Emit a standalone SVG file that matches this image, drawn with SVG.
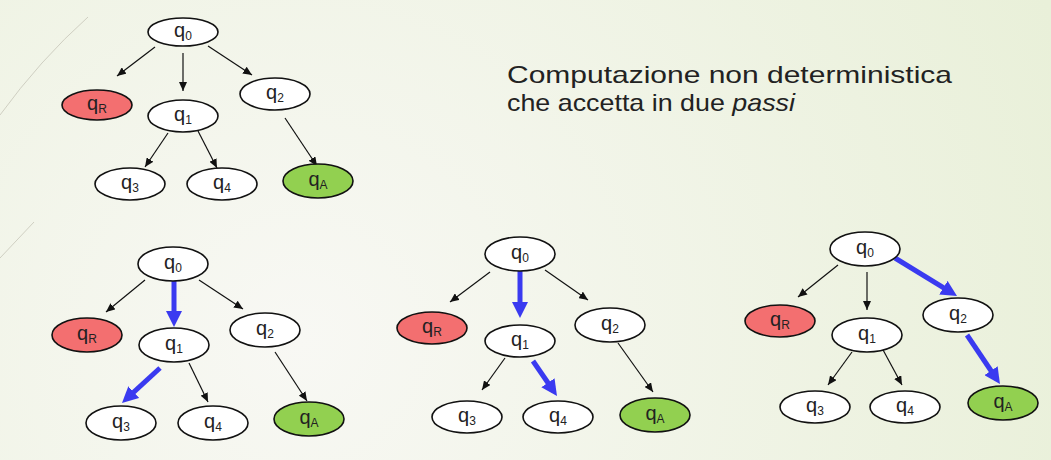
<svg xmlns="http://www.w3.org/2000/svg" width="1051" height="460" viewBox="0 0 1051 460">
  <defs>
    <radialGradient id="bg" cx="300" cy="340" r="820" gradientUnits="userSpaceOnUse">
      <stop offset="0" stop-color="#f8f8f4"/>
      <stop offset="1" stop-color="#e9f0d9"/>
    </radialGradient>
    <marker id="thin" markerUnits="userSpaceOnUse" markerWidth="9" markerHeight="8" refX="9" refY="4" orient="auto">
      <path d="M0,0 L9,4 L0,8 z" fill="#111"/>
    </marker>
    <marker id="bold" markerUnits="userSpaceOnUse" markerWidth="16" markerHeight="16" refX="10" refY="8" orient="auto">
      <path d="M0,0 L16,8 L0,16 z" fill="#3a3af0"/>
    </marker>
    <style>
      .node { fill: #ffffff; stroke: #111; stroke-width: 1.6; }
      .rej { fill: #f36f70; }
      .acc { fill: #92d050; }
      .lbl { font-family: "Liberation Sans", Arial, sans-serif; font-size: 20px; fill: #222; text-anchor: middle; }
      .sub { font-size: 12px; }
      .e { stroke: #111; stroke-width: 1.2; fill: none; marker-end: url(#thin); }
      .b { stroke: #3a3af0; stroke-width: 5; fill: none; marker-end: url(#bold); }
      .title { font-family: "Liberation Sans", Arial, sans-serif; font-size: 24px; fill: #222; }
      .deco { stroke: #cfcfc2; stroke-width: 1; fill: none; }
    </style>
  </defs>

  <rect width="1051" height="460" fill="url(#bg)"/>
  <path class="deco" d="M88,17 Q40,60 0,115"/>
  <path class="deco" d="M34,222 L0,258"/>

  <text class="title" x="507" y="83" textLength="445" lengthAdjust="spacingAndGlyphs">Computazione non deterministica</text>
  <text class="title" x="507" y="111" textLength="288" lengthAdjust="spacingAndGlyphs">che accetta in due <tspan font-style="italic">passi</tspan></text>

  <!-- connectors -->
  <g id="connectors">
    <!-- tree 1 -->
    <line class="e" x1="155" y1="47" x2="117" y2="76"/>
    <line class="e" x1="183" y1="53" x2="183" y2="91"/>
    <line class="e" x1="208" y1="46" x2="252" y2="75"/>
    <line class="e" x1="168" y1="133" x2="145" y2="167"/>
    <line class="e" x1="198" y1="131" x2="217" y2="168"/>
    <line class="e" x1="285" y1="118" x2="317" y2="166"/>
    <!-- tree 2 -->
    <line class="e" x1="145" y1="280" x2="106" y2="312"/>
    <line class="b" x1="174" y1="280" x2="174" y2="321"/>
    <line class="e" x1="199" y1="280" x2="243" y2="309"/>
    <line class="b" x1="160" y1="368" x2="126.4" y2="398.9"/>
    <line class="e" x1="189" y1="363" x2="208" y2="402"/>
    <line class="e" x1="275" y1="352" x2="307" y2="401"/>
    <!-- tree 3 -->
    <line class="e" x1="490" y1="272" x2="450" y2="302"/>
    <line class="b" x1="520" y1="271" x2="520" y2="312"/>
    <line class="e" x1="545" y1="270" x2="588" y2="300"/>
    <line class="e" x1="505" y1="358" x2="482" y2="390"/>
    <line class="b" x1="533" y1="361" x2="553.6" y2="391"/>
    <line class="e" x1="618" y1="343" x2="653" y2="392"/>
    <!-- tree 4 -->
    <line class="e" x1="838" y1="265" x2="798" y2="297"/>
    <line class="e" x1="867" y1="272" x2="867" y2="310"/>
    <line class="b" x1="895" y1="258" x2="951.9" y2="292.9"/>
    <line class="e" x1="852" y1="352" x2="828" y2="385"/>
    <line class="e" x1="882" y1="348" x2="902" y2="385"/>
    <line class="b" x1="967" y1="335" x2="996.6" y2="379"/>
  </g>

  <!-- tree 1 -->
  <g id="t1-q0"><ellipse class="node" cx="183" cy="32" rx="35" ry="14"/><text class="lbl" x="183" y="37">q<tspan class="sub" dy="3">0</tspan></text></g>
  <g id="t1-qR"><ellipse class="node rej" cx="97" cy="105" rx="35" ry="15"/><text class="lbl" x="97" y="110">q<tspan class="sub" dy="3">R</tspan></text></g>
  <g id="t1-q1"><ellipse class="node" cx="183" cy="116" rx="35" ry="16"/><text class="lbl" x="183" y="121">q<tspan class="sub" dy="3">1</tspan></text></g>
  <g id="t1-q2"><ellipse class="node" cx="275" cy="94" rx="35" ry="16"/><text class="lbl" x="275" y="99">q<tspan class="sub" dy="3">2</tspan></text></g>
  <g id="t1-q3"><ellipse class="node" cx="130" cy="184" rx="35" ry="16"/><text class="lbl" x="130" y="189">q<tspan class="sub" dy="3">3</tspan></text></g>
  <g id="t1-q4"><ellipse class="node" cx="222" cy="184" rx="35" ry="16"/><text class="lbl" x="222" y="189">q<tspan class="sub" dy="3">4</tspan></text></g>
  <g id="t1-qA"><ellipse class="node acc" cx="318" cy="181" rx="35" ry="17"/><text class="lbl" x="318" y="186">q<tspan class="sub" dy="3">A</tspan></text></g>

  <!-- tree 2 -->
  <g id="t2-q0"><ellipse class="node" cx="173" cy="264" rx="35" ry="17"/><text class="lbl" x="173" y="269">q<tspan class="sub" dy="3">0</tspan></text></g>
  <g id="t2-qR"><ellipse class="node rej" cx="87" cy="335" rx="35" ry="17"/><text class="lbl" x="87" y="340">q<tspan class="sub" dy="3">R</tspan></text></g>
  <g id="t2-q1"><ellipse class="node" cx="174" cy="345" rx="35" ry="17"/><text class="lbl" x="174" y="350">q<tspan class="sub" dy="3">1</tspan></text></g>
  <g id="t2-q2"><ellipse class="node" cx="265" cy="330" rx="35" ry="17"/><text class="lbl" x="265" y="335">q<tspan class="sub" dy="3">2</tspan></text></g>
  <g id="t2-q3"><ellipse class="node" cx="121" cy="423" rx="35" ry="17"/><text class="lbl" x="121" y="428">q<tspan class="sub" dy="3">3</tspan></text></g>
  <g id="t2-q4"><ellipse class="node" cx="213" cy="423" rx="35" ry="17"/><text class="lbl" x="213" y="428">q<tspan class="sub" dy="3">4</tspan></text></g>
  <g id="t2-qA"><ellipse class="node acc" cx="309" cy="419" rx="35" ry="17"/><text class="lbl" x="309" y="424">q<tspan class="sub" dy="3">A</tspan></text></g>

  <!-- tree 3 -->
  <g id="t3-q0"><ellipse class="node" cx="520" cy="254" rx="35" ry="17"/><text class="lbl" x="520" y="259">q<tspan class="sub" dy="3">0</tspan></text></g>
  <g id="t3-qR"><ellipse class="node rej" cx="432" cy="328" rx="35" ry="16"/><text class="lbl" x="432" y="333">q<tspan class="sub" dy="3">R</tspan></text></g>
  <g id="t3-q1"><ellipse class="node" cx="520" cy="341" rx="35" ry="16"/><text class="lbl" x="520" y="346">q<tspan class="sub" dy="3">1</tspan></text></g>
  <g id="t3-q2"><ellipse class="node" cx="610" cy="325" rx="35" ry="17"/><text class="lbl" x="610" y="330">q<tspan class="sub" dy="3">2</tspan></text></g>
  <g id="t3-q3"><ellipse class="node" cx="467" cy="417" rx="35" ry="16"/><text class="lbl" x="467" y="422">q<tspan class="sub" dy="3">3</tspan></text></g>
  <g id="t3-q4"><ellipse class="node" cx="558" cy="417" rx="35" ry="16"/><text class="lbl" x="558" y="422">q<tspan class="sub" dy="3">4</tspan></text></g>
  <g id="t3-qA"><ellipse class="node acc" cx="655" cy="415" rx="35" ry="17"/><text class="lbl" x="655" y="420">q<tspan class="sub" dy="3">A</tspan></text></g>

  <!-- tree 4 -->
  <g id="t4-q0"><ellipse class="node" cx="865" cy="249" rx="35" ry="17"/><text class="lbl" x="865" y="254">q<tspan class="sub" dy="3">0</tspan></text></g>
  <g id="t4-qR"><ellipse class="node rej" cx="780" cy="321" rx="35" ry="16"/><text class="lbl" x="780" y="326">q<tspan class="sub" dy="3">R</tspan></text></g>
  <g id="t4-q1"><ellipse class="node" cx="867" cy="335" rx="35" ry="17"/><text class="lbl" x="867" y="340">q<tspan class="sub" dy="3">1</tspan></text></g>
  <g id="t4-q2"><ellipse class="node" cx="958" cy="315" rx="35" ry="17"/><text class="lbl" x="958" y="320">q<tspan class="sub" dy="3">2</tspan></text></g>
  <g id="t4-q3"><ellipse class="node" cx="815" cy="407" rx="35" ry="16"/><text class="lbl" x="815" y="412">q<tspan class="sub" dy="3">3</tspan></text></g>
  <g id="t4-q4"><ellipse class="node" cx="905" cy="407" rx="35" ry="16"/><text class="lbl" x="905" y="412">q<tspan class="sub" dy="3">4</tspan></text></g>
  <g id="t4-qA"><ellipse class="node acc" cx="1003" cy="403" rx="35" ry="17"/><text class="lbl" x="1003" y="408">q<tspan class="sub" dy="3">A</tspan></text></g>
</svg>
